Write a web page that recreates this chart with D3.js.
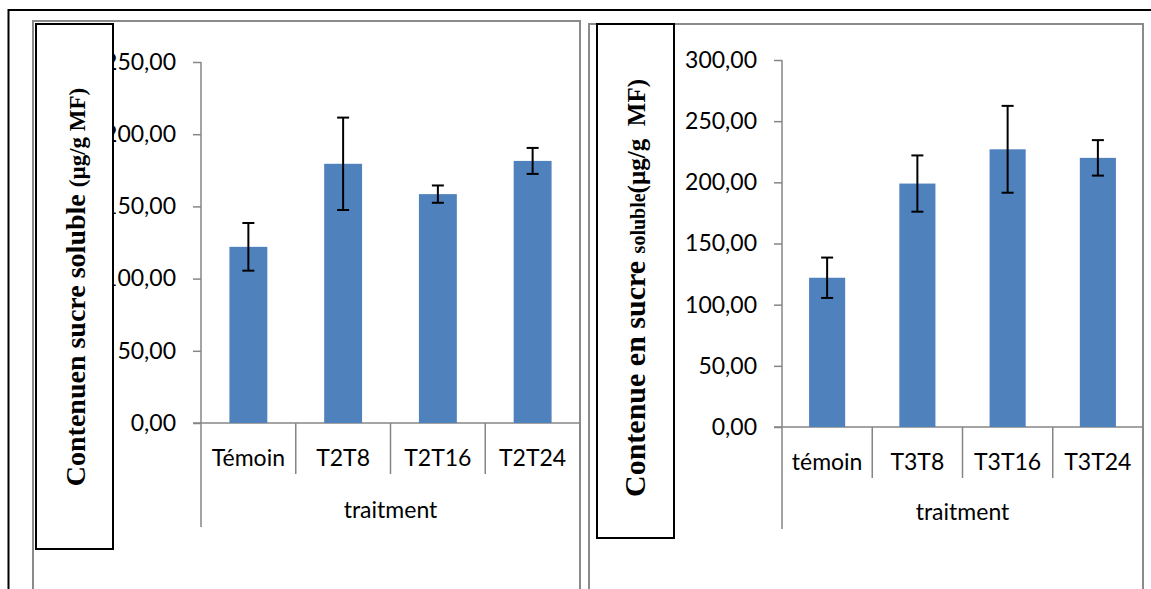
<!DOCTYPE html>
<html>
<head>
<meta charset="utf-8">
<script src="https://cdn.jsdelivr.net/npm/d3@7"></script>
<style>
  body { margin: 0; background: #fff; }
  svg { display: block; }
  .tick text { font-family: Lato, sans-serif; }
</style>
</head>
<body>
<div id="chart"></div>
<script>
// data
var catsLeft = ["Témoin", "T2T8", "T2T16", "T2T24"];
var valsLeft = [122, 179.5, 158.5, 181.5];
var errLeft = [16.5, 32, 6, 9];
var ticksLeft = [0, 50, 100, 150, 200, 250];

var catsRight = ["témoin", "T3T8", "T3T16", "T3T24"];
var valsRight = [122, 199, 227, 220];
var errRight = [16.5, 23, 35.5, 14.5];
var ticksRight = [0, 50, 100, 150, 200, 250, 300];

var xTitle = "traitment";

var fr = d3.formatLocale({ decimal: ",", thousands: " ", grouping: [3], currency: ["", " €"] });
var fmt = fr.format(".2f");

var svg = d3.select("#chart").append("svg")
    .attr("width", 1151)
    .attr("height", 589);

// outer page frame (top + left)
svg.append("path")
    .attr("d", "M8.5,589 V10 H1151")
    .attr("fill", "none")
    .attr("stroke", "#000")
    .attr("stroke-width", 2);

function drawPanel(p) {
    // chart frame
    svg.append("path")
        .attr("d", "M" + p.frame.x0 + ",589 V" + p.frame.y0 + " H" + p.frame.x1 + " V589")
        .attr("fill", "none")
        .attr("stroke", "#8a8a8a")
        .attr("stroke-width", 2);

    var y = d3.scaleLinear()
        .domain([0, d3.max(p.ticks)])
        .range([p.y0, p.y1]);

    var x = d3.scaleBand()
        .domain(p.cats)
        .range([p.x0, p.x1])
        .paddingInner(0.6)
        .paddingOuter(0.3);

    var step = x.step();

    // y axis
    var yAxis = d3.axisLeft(y)
        .tickValues(p.ticks)
        .tickFormat(fmt)
        .tickSize(8)
        .tickPadding(17);

    var yg = svg.append("g")
        .attr("transform", "translate(" + p.x0 + ",0)")
        .call(yAxis);
    yg.select(".domain").remove();
    yg.selectAll(".tick line").attr("stroke", "#868686").attr("stroke-width", 1.5);
    yg.selectAll(".tick text")
        .attr("font-size", 23)
        .attr("fill", "#000");

    // y axis line, running down past the category row
    svg.append("line")
        .attr("x1", p.x0).attr("x2", p.x0)
        .attr("y1", y(d3.max(p.ticks))).attr("y2", p.axisBottom)
        .attr("stroke", "#868686").attr("stroke-width", 1.5);

    // x axis line
    svg.append("line")
        .attr("x1", p.x0 - 8).attr("x2", p.x1)
        .attr("y1", y(0)).attr("y2", y(0))
        .attr("stroke", "#868686").attr("stroke-width", 1.5);

    // category dividers
    svg.selectAll(null)
        .data(d3.range(1, p.cats.length + 1))
        .enter()
        .append("line")
        .attr("x1", function (i) { return p.x0 + i * step; })
        .attr("x2", function (i) { return p.x0 + i * step; })
        .attr("y1", y(0))
        .attr("y2", p.divBottom)
        .attr("stroke", "#868686")
        .attr("stroke-width", 1.5);

    // bars
    svg.selectAll(null)
        .data(p.vals)
        .enter()
        .append("rect")
        .attr("x", function (d, i) { return x(p.cats[i]); })
        .attr("y", function (d) { return y(d); })
        .attr("width", x.bandwidth())
        .attr("height", function (d) { return y(0) - y(d); })
        .attr("fill", "#4f81bd");

    // error bars
    var eb = svg.selectAll(null)
        .data(p.vals)
        .enter()
        .append("g")
        .attr("stroke", "#000")
        .attr("stroke-width", 2);

    eb.append("line")
        .attr("x1", function (d, i) { return x(p.cats[i]) + x.bandwidth() / 2; })
        .attr("x2", function (d, i) { return x(p.cats[i]) + x.bandwidth() / 2; })
        .attr("y1", function (d, i) { return y(d + p.err[i]); })
        .attr("y2", function (d, i) { return y(d - p.err[i]); });

    [1, -1].forEach(function (s) {
        eb.append("line")
            .attr("x1", function (d, i) { return x(p.cats[i]) + x.bandwidth() / 2 - 6; })
            .attr("x2", function (d, i) { return x(p.cats[i]) + x.bandwidth() / 2 + 6; })
            .attr("y1", function (d, i) { return y(d + s * p.err[i]); })
            .attr("y2", function (d, i) { return y(d + s * p.err[i]); });
    });

    // category labels
    svg.selectAll(null)
        .data(p.cats)
        .enter()
        .append("text")
        .attr("x", function (d) { return x(d) + x.bandwidth() / 2; })
        .attr("y", p.catBase)
        .attr("text-anchor", "middle")
        .attr("font-family", "Lato, sans-serif")
        .attr("font-size", 23)
        .text(function (d) { return d; });

    // x title
    svg.append("text")
        .attr("x", (p.x0 + p.x1) / 2)
        .attr("y", p.titleBase)
        .attr("text-anchor", "middle")
        .attr("font-family", "Lato, sans-serif")
        .attr("font-size", 23)
        .text(xTitle);

    // y title inside its own black box, drawn over the tick labels
    svg.append("rect")
        .attr("x", p.box.x0).attr("y", p.box.y0)
        .attr("width", p.box.x1 - p.box.x0)
        .attr("height", p.box.y1 - p.box.y0)
        .attr("fill", "#fff")
        .attr("stroke", "#000")
        .attr("stroke-width", 2);

    var t = svg.append("text")
        .attr("transform", "translate(" + p.label.x + "," + p.label.y + ") rotate(-90)")
        .attr("text-anchor", "middle")
        .attr("font-family", "'Liberation Serif', 'Times New Roman', serif")
        .attr("font-weight", "bold")
        .style("white-space", "pre");
    p.label.parts.forEach(function (part) {
        t.append("tspan")
            .attr("font-size", part[1])
            .text(part[0]);
    });
}

drawPanel({
    cats: catsLeft, vals: valsLeft, err: errLeft, ticks: ticksLeft,
    x0: 201, x1: 580, y0: 423, y1: 62,
    axisBottom: 527, divBottom: 474, catBase: 466, titleBase: 518,
    frame: { x0: 33, y0: 21, x1: 580 },
    box: { x0: 36, y0: 24, x1: 113, y1: 549 },
    label: { x: 85, y: 287, parts: [["Contenuen sucre soluble ", 28], ["(µg/g MF)", 23]] }
});

drawPanel({
    cats: catsRight, vals: valsRight, err: errRight, ticks: ticksRight,
    x0: 782, x1: 1143, y0: 427, y1: 60,
    axisBottom: 529, divBottom: 478, catBase: 470, titleBase: 520,
    frame: { x0: 589, y0: 24, x1: 1143 },
    box: { x0: 597, y0: 24, x1: 674, y1: 538 },
    label: { x: 645, y: 288, parts: [["Contenue en sucre ", 30], ["soluble", 20], ["(µg/g  MF)", 25]] }
});
</script>
</body>
</html>
